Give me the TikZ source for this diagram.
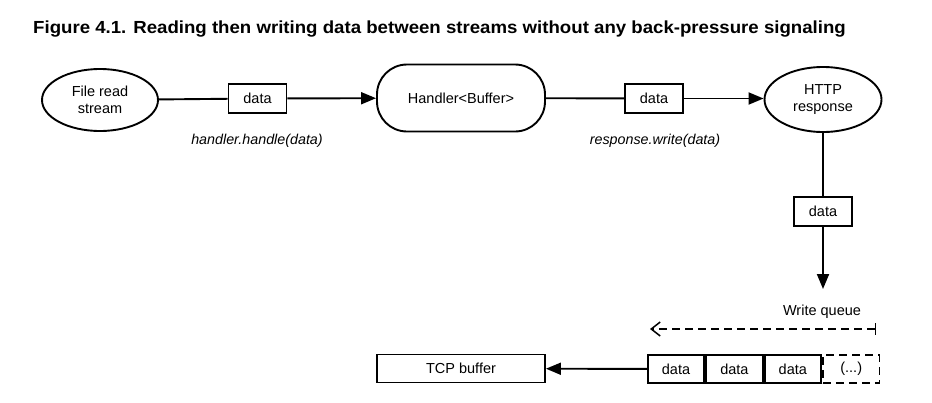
\documentclass[tikz,border=0pt]{standalone}
\usepackage{fontspec}
\setmainfont{Liberation Sans}
\newfontfamily\titlefont[FakeStretch=1.065]{Liberation Sans}
\usetikzlibrary{arrows.meta,positioning,shapes.geometric}

\begin{document}
\begin{tikzpicture}[x=1pt,y=-1pt]
		\tikzstyle{stream}=[ellipse,draw,line width=1.9pt,minimum width=116pt,minimum height=62pt,inner sep=0pt,align=center,font=\fontsize{14.5}{17}\selectfont]
		\tikzstyle{handlerbox}=[rectangle,draw,line width=1.9pt,rounded corners=30pt,minimum width=168pt,minimum height=67pt,font=\fontsize{14.5}{17}\selectfont]
		\tikzstyle{chunk}=[rectangle,draw,line width=1.9pt,minimum width=58pt,minimum height=29pt,inner sep=0pt,font=\fontsize{14.5}{17}\selectfont]
		\tikzstyle{slot}=[chunk,minimum width=56.5pt,minimum height=28pt]
		\tikzstyle{call}=[font=\fontsize{14.3}{17}\selectfont\itshape]
		\tikzstyle{pipe}=[line width=1.9pt]
		\tikzstyle{push}=[line width=1.9pt,-{Triangle[length=15pt,width=12pt]}]
		\tikzstyle{queueflow}=[line width=1.5pt,dash pattern=on 8pt off 5pt,{Bar[width=12pt,line width=1.5pt]}-{Straight Barb[length=9pt,width=14pt,line width=1.5pt]}]
		
		\useasboundingbox (0,0) rectangle (932,402);
		
		% title
		\node[anchor=base west,inner sep=0pt,font=\titlefont\bfseries\fontsize{17.5}{20}\selectfont] (title) at (33,33.3) {Figure 4.1. Reading then writing data between streams without any back-pressure signaling};
		
		% top row
		\node[stream] (file) at (100,100) {File read\\stream};
		\node[handlerbox] (handler) at (461,98) {Handler<Buffer>};
		\node[stream,minimum width=117pt,minimum height=65pt] (http) at (823,99.5) {HTTP\\response};
		\node[chunk] (d1) at (257.5,98.5) {data};
		\node[chunk] (d2) at (654,98.5) {data};
		\node[call] (c1) at (257,141) {handler.handle(data)};
		\node[call] (c2) at (655,141) {response.write(data)};
		
		\draw[pipe] (file) -- (d1);
		\draw[push] (d1) -- (handler);
		\draw[pipe] (handler) -- (d2);
		\draw[push] (d2) -- (http.west |- d2);
		
		% down to the queue
		\node[chunk] (d3) at (823,211.5) {data};
		\coordinate (qin) at (823,289);
		\draw[pipe] (http) -- (d3);
		\draw[push] (d3) -- (qin);
		
		% write queue
		\node[font=\fontsize{14.5}{17}\selectfont] (wq) at (822,312) {Write queue};
		\coordinate (qhead) at (876,329);
		\coordinate (qtail) at (650,329);
		\draw[queueflow] (qhead) -- (qtail);
		
		\node[slot] (q1) at (676,369) {data};
		\node[slot,right=0pt of q1] (q2) {data};
		\node[slot,right=0pt of q2] (q3) {data};
		\node[slot,right=0pt of q3,dash pattern=on 8pt off 5pt] (q4) {(...)};
		
		\node[chunk,minimum width=168pt,minimum height=28pt] (tcp) at (461,368.5) {TCP buffer};
		\draw[push] (q1) -- (tcp);
		\end{tikzpicture}
\end{document}
